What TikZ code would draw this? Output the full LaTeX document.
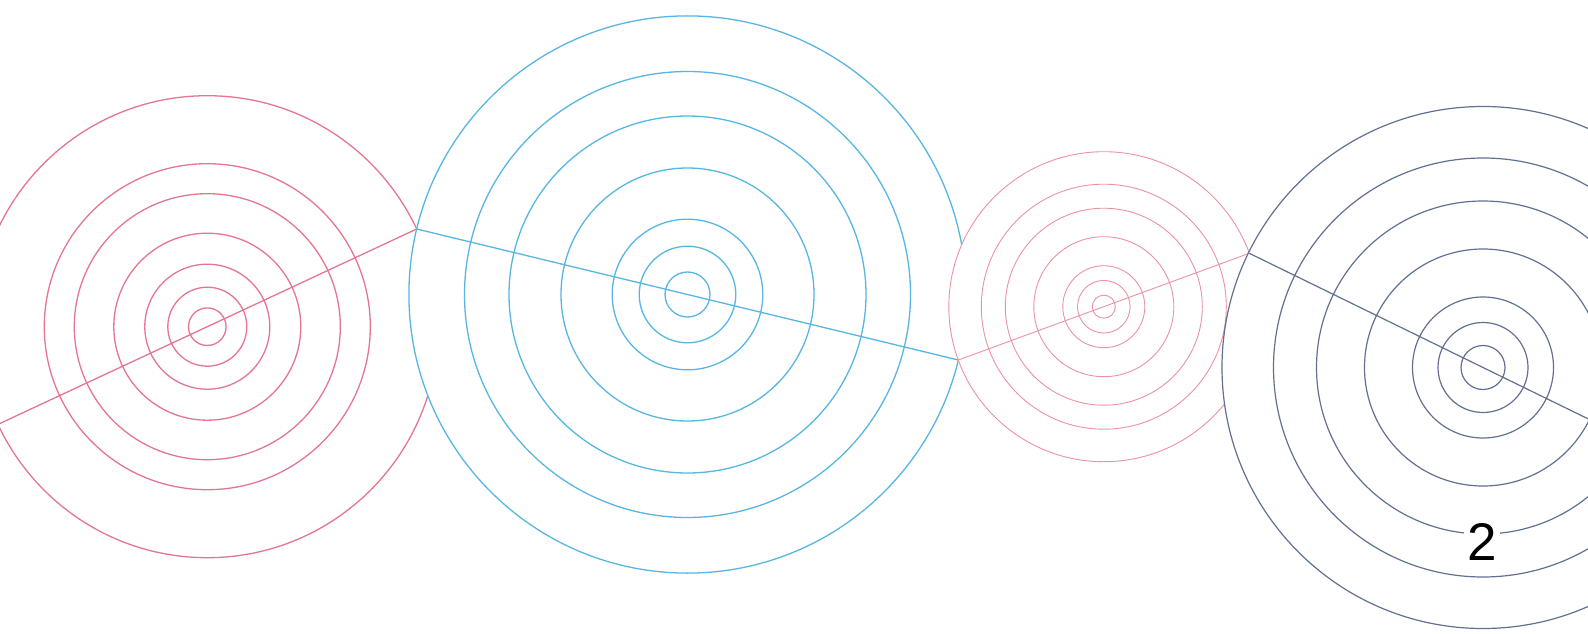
\documentclass[tikz,border=0pt]{standalone}
\usepackage{fontspec}
\setmainfont{Liberation Sans}
\definecolor{pinkc}{RGB}{228,118,146}
\definecolor{pinkl}{RGB}{236,146,164}
\definecolor{bluec}{RGB}{88,182,226}
\definecolor{navyc}{RGB}{98,112,146}
\tikzset{
  ringA/.style={draw=pinkc, line width=1.3pt},
  ringB/.style={draw=bluec, line width=1.3pt},
  ringC/.style={draw=pinkl, line width=0.9pt},
  ringD/.style={draw=navyc, line width=1.2pt},
  cover/.style={fill=white},
}
\begin{document}
\begin{tikzpicture}[x=1pt,y=-1pt]
\useasboundingbox (0,0) rectangle (1588,634);
\clip (0,0) rectangle (1588,634);
\fill[white] (0,0) rectangle (1588,634);
% chain points
\coordinate (p0) at (-2.1,424.4);
\coordinate (p1) at (416.7,229);
\coordinate (p2) at (958.3,360);
\coordinate (p3) at (1249.3,253.3);
\coordinate (p4) at (1716.7,481.7);
\coordinate (c1) at (207.3,326.7);
\coordinate (c2) at (687.5,294.5);
\coordinate (c3) at (1103.8,306.7);
\coordinate (c4) at (1483,367.5);
% circle 1
\fill[cover] (c1) circle[radius=231];
\foreach \r in {18.8,39.5,62.5,93.5,133,163,231}
  \draw[ringA] (c1) circle[radius=\r];
\draw[ringA] (p0) -- (p1);
% circle 2
\fill[cover] (c2) circle[radius=278.6];
\foreach \r in {22.5,48.3,75.3,126.5,178.5,223,278.6}
  \draw[ringB] (c2) circle[radius=\r];
\draw[ringB] (p1) -- (p2);
% circle 3
\fill[cover] (c3) circle[radius=155];
\foreach \r in {11.5,26.3,41,70,98.5,122.5,155}
  \draw[ringC] (c3) circle[radius=\r];
\draw[ringC] (p2) -- (p3);
% circle 4
\fill[cover] (c4) circle[radius=261];
\foreach \r in {22,45,70.5,118.5,166.5,209.5,261}
  \draw[ringD] (c4) circle[radius=\r];
\draw[ringD] (p3) -- (p4);
% label
\node[fill=white, inner xsep=3pt, inner ysep=2pt, anchor=base,
      font=\fontsize{53}{60}\selectfont] (lab) at (1482,560) {2};
\end{tikzpicture}
\end{document}
